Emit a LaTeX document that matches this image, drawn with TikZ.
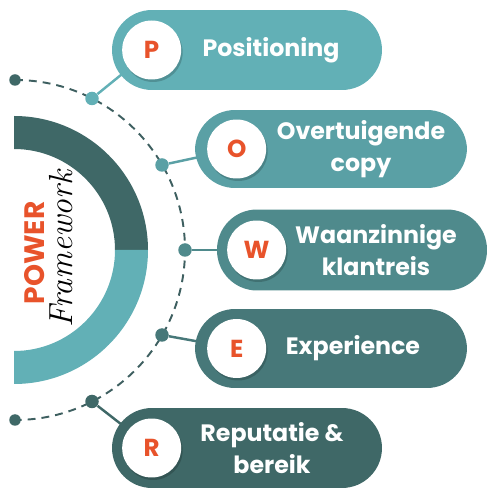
\documentclass[tikz,border=0pt]{standalone}
\usepackage{fontspec}
\setsansfont{Poppins}
\usetikzlibrary{positioning,backgrounds}

\definecolor{tealP}{HTML}{62B0B6}
\definecolor{tealO}{HTML}{5AA0A5}
\definecolor{tealW}{HTML}{4F8A8C}
\definecolor{tealE}{HTML}{477879}
\definecolor{tealR}{HTML}{3F6867}
\definecolor{arcgray}{HTML}{3E5F60}
\definecolor{powerred}{HTML}{E8532B}

\tikzset{
  pill/.style={rounded corners=0.8cm, minimum height=1.6cm, minimum width=5.4cm, inner sep=0pt},
  letter/.style={circle, fill=white, minimum size=1.18cm, inner sep=0pt, text=powerred,
    font=\sffamily\bfseries\fontsize{14}{16}\selectfont,
    preaction={fill=black, opacity=0.18, transform canvas={shift={(0.03cm,-0.05cm)}}}},
  steplabel/.style={text=white, align=center, font=\sffamily\bfseries\fontsize{13.5}{18}\selectfont},
  dot/.style={circle, minimum size=0.27cm, inner sep=0pt},
  enddot/.style={circle, minimum size=0.23cm, inner sep=0pt, fill=tealR},
  link/.style={line width=1.4pt},
}

\begin{document}
\begin{tikzpicture}[x=0.02cm, y=0.02cm]
  \useasboundingbox (0,0) rectangle (500,500);

  % 1. punten op de stippellijn
  \node[enddot] (top) at (15,420) {};
  \node[dot, fill=tealP] (dP) at (92,401.5) {};
  \node[dot, fill=tealO] (dO) at (162,335) {};
  \node[dot, fill=tealW] (dW) at (185,250) {};
  \node[dot, fill=tealE] (dE) at (162,165) {};
  \node[dot, fill=tealR] (dR) at (92,98.5) {};
  \node[enddot] (bottom) at (15,80) {};

  % 2. pillen met letters
  \node[pill, fill=tealP] (pP) at (247,450) {};
  \node[letter] (lP) at ([xshift=0.8cm]pP.west) {P};
  \node[steplabel] (tP) at ([xshift=0.48cm]pP.center) {Positioning};

  \node[pill, fill=tealO, minimum width=5.44cm, minimum height=1.56cm] (pO) at (331,351) {};
  \node[letter] (lO) at ([xshift=0.84cm]pO.west) {O};
  \node[steplabel] (tO) at ([xshift=0.6cm]pO.center) {Overtuigende\\copy};

  \node[pill, fill=tealW, minimum height=1.62cm] (pW) at (352,250) {};
  \node[letter] (lW) at ([xshift=0.8cm]pW.west) {W};
  \node[steplabel] (tW) at ([xshift=0.48cm]pW.center) {Waanzinnige\\klantreis};

  \node[pill, fill=tealE, minimum width=5.44cm, minimum height=1.58cm] (pE) at (331,151.5) {};
  \node[letter] (lE) at ([xshift=0.84cm]pE.west) {E};
  \node[steplabel] (tE) at ([xshift=0.44cm]pE.center) {Experience};

  \node[pill, fill=tealR] (pR) at (247,52) {};
  \node[letter] (lR) at ([xshift=0.8cm]pR.west) {R};
  \node[steplabel] (tR) at ([xshift=0.5cm]pR.center) {Reputatie \&\\bereik};

  % 3. titel
  \node[rotate=90, text=powerred, font=\sffamily\bfseries\fontsize{16}{18}\selectfont] (power) at (35,247) {POWER};
  \node[rotate=90, font=\rmfamily\itshape\fontsize{19}{21}\selectfont] (frame) at (61,251) {Framework};

  \begin{scope}[on background layer]
    % 4. halve ring
    \fill[tealR] (14,384) arc (90:0:134) -- (115,250) arc (0:90:101) -- cycle;
    \fill[tealP] (148,250) arc (0:-90:134) -- (14,149) arc (-90:0:101) -- cycle;

    % 5. stippellijn
    \draw[arcgray, line width=1.1pt, dash pattern=on 4.5pt off 3.4pt] (top.center) arc (90:-90:170);

    % 6. verbindingen
    \draw[link, tealP] (dP) -- (lP);
    \draw[link, tealO] (dO) -- (lO);
    \draw[link, tealW] (dW) -- (lW);
    \draw[link, tealE] (dE) -- (lE);
    \draw[link, tealR] (dR) -- (lR);
  \end{scope}
\end{tikzpicture}
\end{document}
